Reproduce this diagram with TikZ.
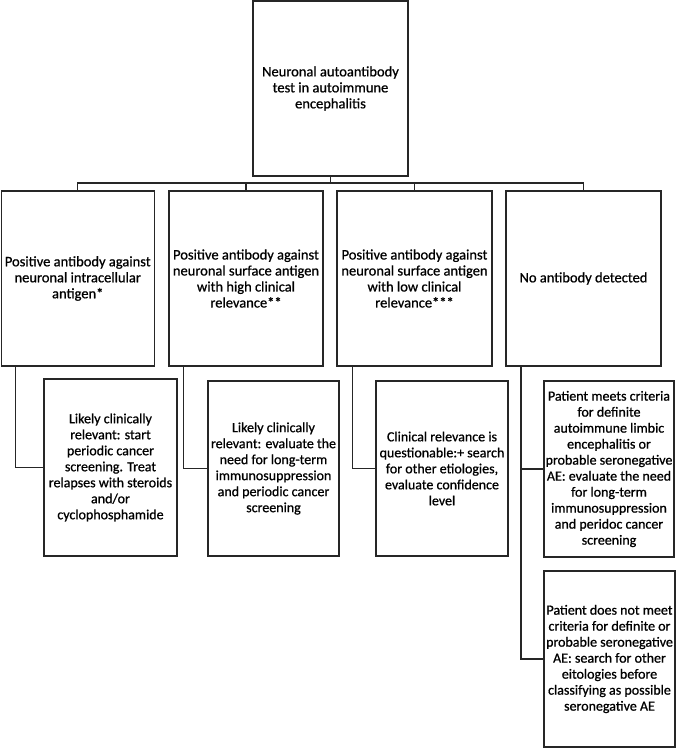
\documentclass[tikz,border=0pt]{standalone}
\usepackage{fontspec}
\setmainfont[FakeBold=0.8,UprightFeatures={FakeBold=0.8}]{Carlito}
\begin{document}
\begin{tikzpicture}[x=1pt,y=-1pt,
  box/.style={draw=black!85, line width=1.2pt, rectangle, inner sep=0pt, align=center,
    font=\fontsize{14}{16}\selectfont, text=black},
  bigbox/.style={box, font=\fontsize{14.5}{16}\selectfont},
  conn/.style={draw=black!85, line width=1.2pt}]
\useasboundingbox (0,0) rectangle (677,748);
% top
\node[bigbox, minimum width=155pt, minimum height=175pt] (top) at (330.5,88.5)
  {Neuronal autoantibody\\test in autoimmune\\encephalitis};
% row 1
\node[bigbox, minimum width=153pt, minimum height=175pt] (r1) at (77.75,278.5)
  {Positive antibody against\\neuronal intracellular\\antigen*};
\node[bigbox, minimum width=154pt, minimum height=175pt] (r2) at (246,278.5)
  {Positive antibody against\\neuronal surface antigen\\with high clinical\\relevance**};
\node[bigbox, minimum width=155pt, minimum height=175pt] (r3) at (414.5,278.5)
  {Positive antibody against\\neuronal surface antigen\\with low clinical\\relevance***};
\node[bigbox, minimum width=155pt, minimum height=175pt] (r4) at (583.5,278.5)
  {No antibody detected};
% row 2
\node[box, minimum width=133pt, minimum height=177pt] (b1) at (110.5,467.5)
  {Likely clinically\\relevant: start\\periodic cancer\\screening. Treat\\relapses with steroids\\and/or\\cyclophosphamide};
\node[box, minimum width=131pt, minimum height=175pt] (b2) at (273.5,468.5)
  {Likely clinically\\relevant: evaluate the\\need for long-term\\immunosuppression\\and periodic cancer\\screening};
\node[box, minimum width=132pt, minimum height=175pt] (b3) at (442,468.5)
  {Clinical relevance is\\questionable:+ search\\for other etiologies,\\evaluate confidence\\level};
\node[box, minimum width=130pt, minimum height=176pt] (b4a) at (609,469)
  {Patient meets criteria\\for definite\\autoimmune limbic\\encephalitis or\\probable seronegative\\AE: evaluate the need\\for long-term\\immunosuppression\\and peridoc cancer\\screening};
\node[box, minimum width=131pt, minimum height=176pt] (b4b) at (609.5,659)
  {Patient does not meet\\criteria for definite or\\probable seronegative\\AE: search for other\\eitologies before\\classifying as possible\\seronegative AE};
% tree connectors
\coordinate (bus) at (0,183);
\draw[conn] (top.south) -- (top.south |- bus);
\draw[conn] (r1.north) -- (r1.north |- bus) -| (r4.north);
\draw[conn] (r2.north) -- (r2.north |- bus);
\draw[conn] (r3.north) -- (r3.north |- bus);
% side connectors
\coordinate (v1) at ([xshift=15pt]r1.south west);
\coordinate (v2) at ([xshift=15pt]r2.south west);
\coordinate (v3) at ([xshift=16pt]r3.south west);
\coordinate (v4) at ([xshift=15.5pt]r4.south west);
\draw[conn] (v1) |- (b1.west);
\draw[conn] (v2) |- (b2.west);
\draw[conn] (v3) |- (b3.west);
\draw[conn] (v4) |- (b4b.west);
\draw[conn] (v4 |- b4a.west) -- (b4a.west);
\end{tikzpicture}
\end{document}
